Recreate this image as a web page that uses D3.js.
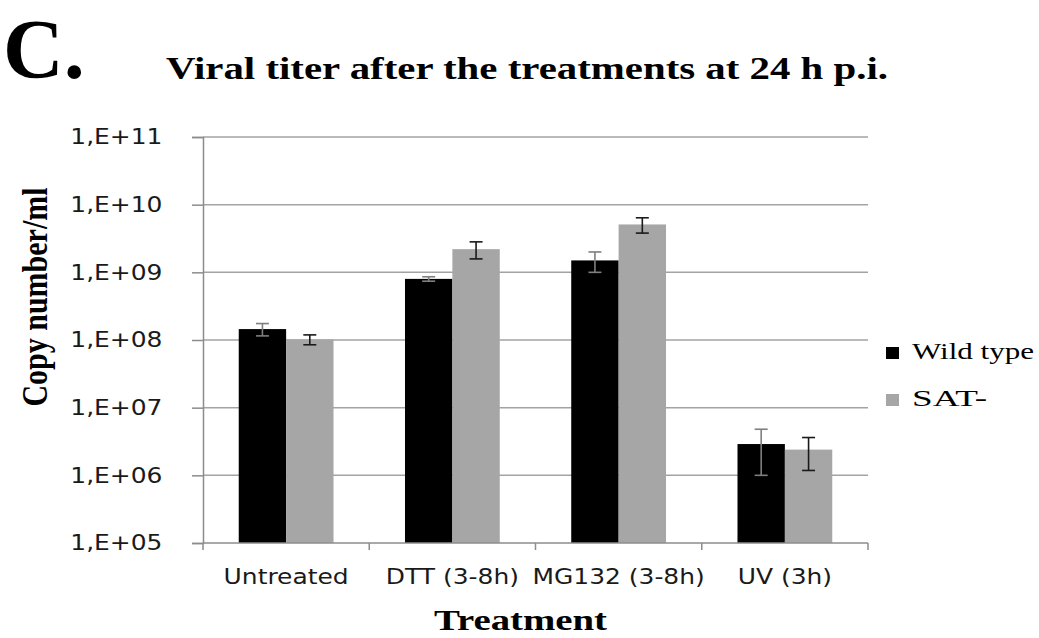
<!DOCTYPE html>
<html>
<head>
<meta charset="utf-8">
<script src="https://cdn.jsdelivr.net/npm/d3@7"></script>
<style>
  html, body { margin: 0; padding: 0; background: #fff; }
  svg { display: block; }
</style>
</head>
<body>
<svg id="chart" width="1039" height="638"></svg>
<script>
// Treatment groups and the two virus strains
const categories = ["Untreated", "DTT (3-8h)", "MG132 (3-8h)", "UV (3h)"];
const seriesNames = ["Wild type", "SAT-"];

// Copy number/ml at 24 h p.i. (mean and error)
const wildType    = [1.45e8, 8.0e8, 1.5e9, 2.9e6];
const wildTypeErr = [0.30e8, 0.6e8, 0.5e9, 1.9e6];
const satMinus    = [1.02e8, 2.2e9, 5.1e9, 2.4e6];
const satMinusErr = [0.17e8, 0.62e9, 1.3e9, 1.22e6];

// Y-axis ticks and their labels
const yTicks = [1e5, 1e6, 1e7, 1e8, 1e9, 1e10, 1e11];
const yTickLabels = ["1,E+05", "1,E+06", "1,E+07", "1,E+08", "1,E+09", "1,E+10", "1,E+11"];

const barColors = ["#000000", "#a6a6a6"];
const errColors = ["#7f7f7f", "#1a1a1a"];

const svg = d3.select("#chart");
const plot = { left: 203, right: 868, top: 137, bottom: 543 };
const serif = "Liberation Serif, Times New Roman, serif";
const sans = "DejaVu Sans, sans-serif";

const y = d3.scaleLog().domain([1e5, 1e11]).range([plot.bottom, plot.top]);
const x0 = d3.scaleBand().domain(categories).range([plot.left, plot.right]).padding(0);
const groupW = x0.bandwidth() * 0.57;
const x1 = d3.scaleBand().domain(seriesNames).range([0, groupW]).padding(0);

const rows = categories.map((c, i) => ({
  cat: c,
  vals: [
    { s: seriesNames[0], v: wildType[i], e: wildTypeErr[i], k: 0 },
    { s: seriesNames[1], v: satMinus[i], e: satMinusErr[i], k: 1 }
  ]
}));

// Horizontal grid lines
svg.append("g")
  .selectAll("line")
  .data(yTicks.slice(1))
  .join("line")
  .attr("x1", plot.left).attr("x2", plot.right)
  .attr("y1", d => y(d)).attr("y2", d => y(d))
  .attr("stroke", "#a3a3a3").attr("stroke-width", 1.5);

// Bars
const groups = svg.append("g")
  .selectAll("g")
  .data(rows)
  .join("g")
  .attr("transform", d => `translate(${x0(d.cat) + (x0.bandwidth() - groupW) / 2},0)`);

groups.selectAll("rect")
  .data(d => d.vals)
  .join("rect")
  .attr("x", d => x1(d.s))
  .attr("width", x1.bandwidth())
  .attr("y", d => y(d.v))
  .attr("height", d => y(1e5) - y(d.v))
  .attr("fill", d => barColors[d.k]);

// Error bars
const eb = groups.selectAll("g.err")
  .data(d => d.vals)
  .join("g")
  .attr("class", "err")
  .attr("stroke", d => errColors[d.k])
  .attr("stroke-width", 1.6);
const cx = d => x1(d.s) + x1.bandwidth() / 2;
eb.append("line")
  .attr("x1", cx).attr("x2", cx)
  .attr("y1", d => y(d.v + d.e)).attr("y2", d => y(d.v - d.e));
eb.append("line")
  .attr("x1", d => cx(d) - 6.5).attr("x2", d => cx(d) + 6.5)
  .attr("y1", d => y(d.v + d.e)).attr("y2", d => y(d.v + d.e));
eb.append("line")
  .attr("x1", d => cx(d) - 6.5).attr("x2", d => cx(d) + 6.5)
  .attr("y1", d => y(d.v - d.e)).attr("y2", d => y(d.v - d.e));

// Y axis
const yAxis = d3.axisLeft(y)
  .tickValues(yTicks)
  .tickFormat((d, i) => yTickLabels[i])
  .tickSize(11)
  .tickPadding(24);
const gy = svg.append("g")
  .attr("transform", `translate(${plot.left},0)`)
  .call(yAxis);
gy.select(".domain").attr("stroke", "#8c8c8c").attr("stroke-width", 1.5);
gy.selectAll(".tick line").attr("stroke", "#8c8c8c").attr("stroke-width", 1.5);
gy.selectAll(".tick text")
  .attr("font-family", sans)
  .attr("font-size", 21.5)
  .attr("fill", "#1a1a1a")
  .attr("transform", "scale(1.16,1)");

// X axis: ticks sit on the category boundaries
const gx = svg.append("g")
  .attr("transform", `translate(0,${plot.bottom})`);
gx.append("line")
  .attr("x1", plot.left).attr("x2", plot.right)
  .attr("stroke", "#8c8c8c").attr("stroke-width", 1.5);
const bounds = categories.map(c => x0(c)).concat([x0.range()[1]]);
gx.selectAll("line.tk")
  .data(bounds)
  .join("line")
  .attr("class", "tk")
  .attr("x1", d => d).attr("x2", d => d)
  .attr("y1", 0).attr("y2", 7)
  .attr("stroke", "#8c8c8c").attr("stroke-width", 1.5);
gx.selectAll("text")
  .data(categories)
  .join("text")
  .attr("transform", d => `translate(${x0(d) + x0.bandwidth() / 2},41) scale(1.16,1)`)
  .attr("text-anchor", "middle")
  .attr("font-family", sans)
  .attr("font-size", 21.5)
  .attr("fill", "#1a1a1a")
  .text(d => d);

// Panel letter and title
svg.append("text")
  .attr("x", 3).attr("y", 78)
  .attr("font-family", serif)
  .attr("font-weight", "bold")
  .attr("font-size", 84)
  .attr("fill", "#000")
  .text("C.");

svg.append("text")
  .attr("x", 166).attr("y", 79)
  .attr("font-family", serif)
  .attr("font-weight", "bold")
  .attr("font-size", 31)
  .attr("textLength", 722)
  .attr("lengthAdjust", "spacingAndGlyphs")
  .attr("fill", "#000")
  .text("Viral titer after the treatments at 24 h p.i.");

// Axis titles
svg.append("text")
  .attr("transform", "translate(47,297) scale(1.2,1) rotate(-90)")
  .attr("text-anchor", "middle")
  .attr("font-family", serif)
  .attr("font-weight", "bold")
  .attr("font-size", 30)
  .attr("fill", "#000")
  .text("Copy number/ml");

svg.append("text")
  .attr("x", 434).attr("y", 630)
  .attr("font-family", serif)
  .attr("font-weight", "bold")
  .attr("font-size", 30)
  .attr("textLength", 173)
  .attr("lengthAdjust", "spacingAndGlyphs")
  .attr("fill", "#000")
  .text("Treatment");

// Legend
const legend = svg.append("g");
const legendLen = [122, 75];
seriesNames.forEach((s, i) => {
  const yy = 347 + i * 47;
  legend.append("rect")
    .attr("x", 886).attr("y", yy)
    .attr("width", 13).attr("height", 12)
    .attr("fill", barColors[i]);
  legend.append("text")
    .attr("x", 912).attr("y", yy + 12)
    .attr("font-family", serif)
    .attr("font-size", 24)
    .attr("textLength", legendLen[i])
    .attr("lengthAdjust", "spacingAndGlyphs")
    .attr("fill", "#000")
    .text(s);
});
</script>
</body>
</html>
